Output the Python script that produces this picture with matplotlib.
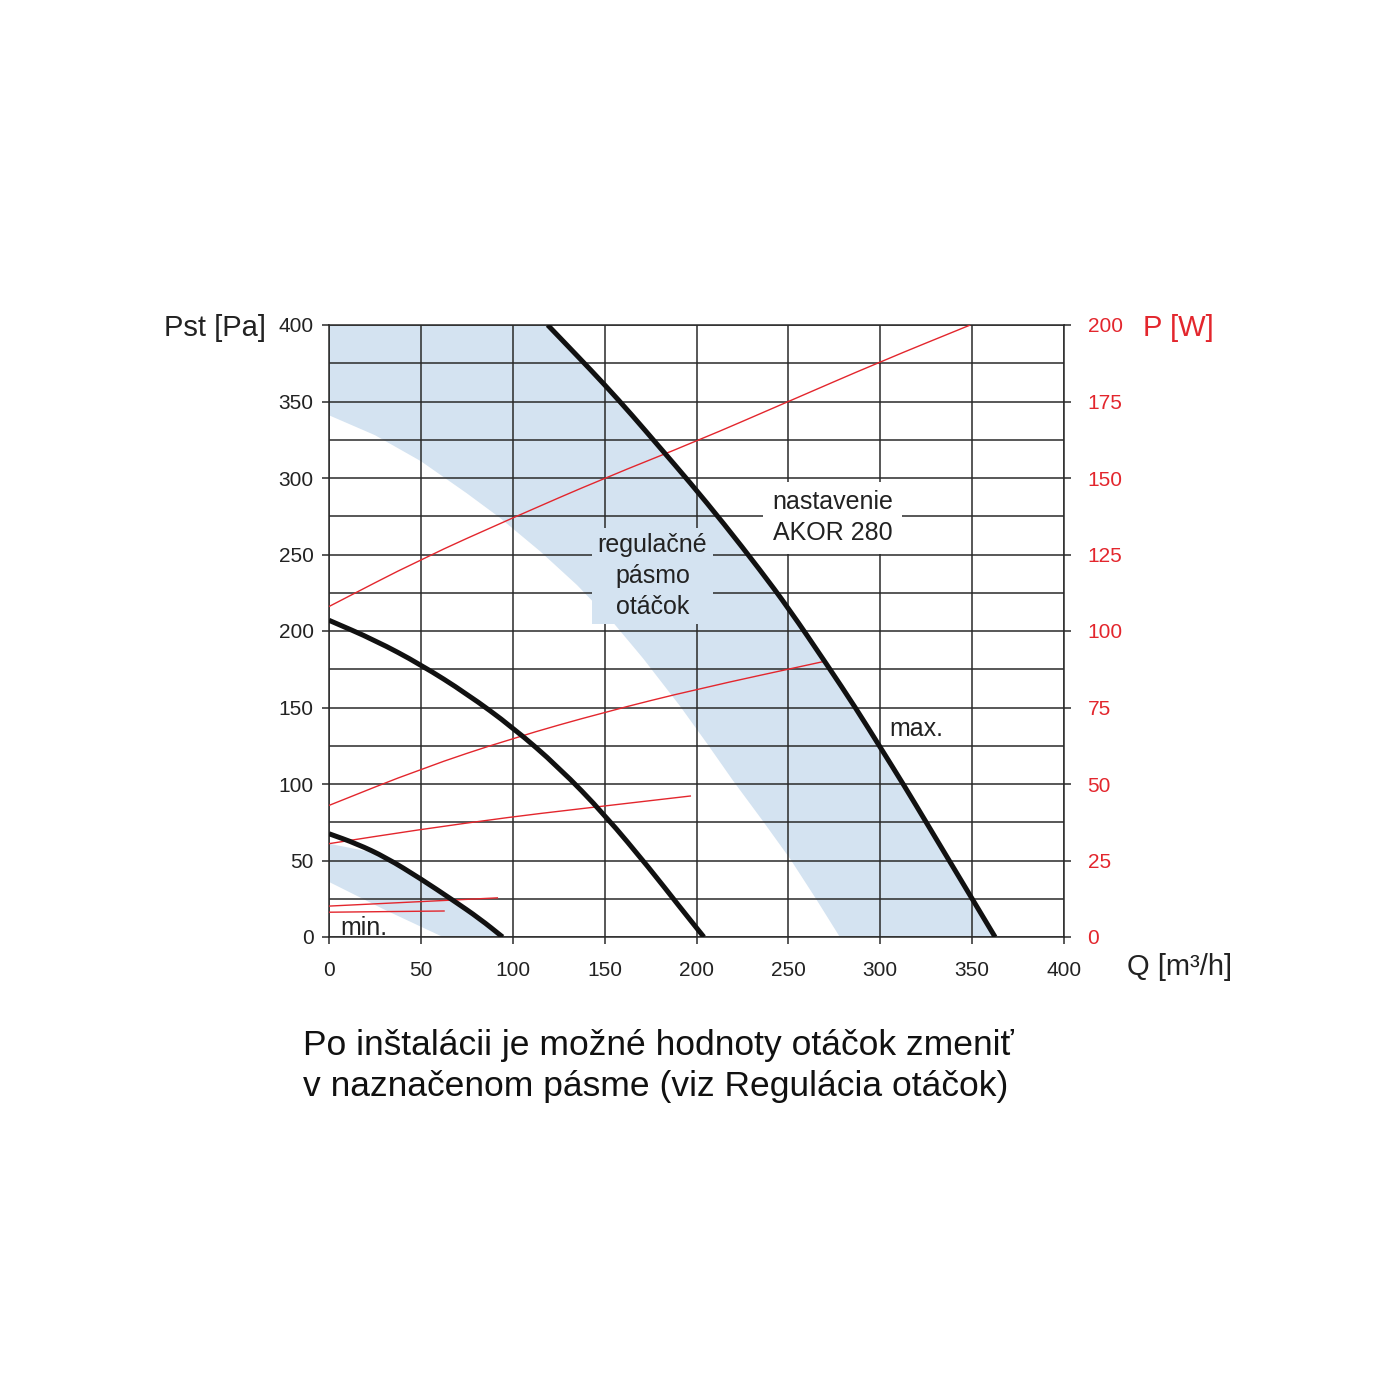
import matplotlib
matplotlib.use("Agg")
import matplotlib.pyplot as plt
from matplotlib.path import Path
from matplotlib.patches import PathPatch
import numpy as np

plt.rcParams['font.family'] = ['Liberation Sans', 'DejaVu Sans']

# fan curves, Q [m3/h] vs Pst [Pa]
max_q = [119, 135, 150, 165, 180, 196.5, 215, 234.5, 250, 271, 287, 300, 313, 326, 338, 350.5, 362.5]
max_p = [400, 380, 361, 341, 320, 297, 270, 240, 215, 178, 149, 124, 99, 73, 49, 24, 0]
mid_q = [0, 25, 50, 75, 100, 125, 150, 175, 190, 204]
mid_p = [207, 194, 178, 159, 137, 111, 80, 44, 21, 0]
min_q = [0, 15, 31, 50, 67.5, 82, 94.5]
min_p = [67.5, 61, 52, 38, 24, 12, 0]

# lower edge of the regulation band
band_q = [0, 25, 50, 75, 93, 115, 135, 155, 171, 191, 206, 220, 236, 251, 265, 278]
band_p = [341, 328, 311, 290, 274, 252, 230, 205, 182, 151, 126, 102, 76, 51, 25, 0]
minband_top_q = [0, 25, 50, 67.5, 82, 94.5]
minband_top_p = [61, 55, 38, 24, 12, 0]
minband_low_q = [0, 30, 62]
minband_low_p = [36, 18, 0]

# power lines, Q vs P [W]
pw1_q = [0, 50, 100, 150, 200, 250, 300, 349]
pw1_w = [108, 123.5, 137, 150, 162, 175, 188, 200]
pw2_q = [0, 50, 100, 150, 200, 269]
pw2_w = [43, 55, 65, 73.5, 81, 90]
pw3_q = [0, 48, 100, 131, 197]
pw3_w = [30.5, 35, 39.3, 41.5, 46.1]
pw4_q = [0, 92]
pw4_w = [10.1, 12.8]
pw5_q = [0, 63]
pw5_w = [8.1, 8.5]

q_ticks = list(range(0, 401, 50))
pst_ticks = list(range(0, 401, 50))
w_ticks = list(range(0, 201, 25))

blue = '#d4e3f1'
red = '#e3262d'
gridc = '#2a2a2a'


def smooth_path(xs, ys):
    # quadratic bezier through the midpoints, so the read points act as control points
    pts = np.column_stack([xs, ys]).astype(float)
    if len(pts) < 3:
        return Path(pts)
    verts = [pts[0], (pts[0] + pts[1]) / 2]
    codes = [Path.MOVETO, Path.LINETO]
    for i in range(1, len(pts) - 1):
        verts += [pts[i], (pts[i] + pts[i + 1]) / 2]
        codes += [Path.CURVE3, Path.CURVE3]
    verts.append(pts[-1])
    codes.append(Path.LINETO)
    return Path(verts, codes)


fig = plt.figure(figsize=(14, 14), dpi=100)
ax = fig.add_axes([329/1400, 1-937/1400, 735/1400, 612/1400])
ax2 = ax.twinx()

ax.set_xlim(0, 400)
ax.set_ylim(0, 400)
ax2.set_ylim(0, 200)

# regulation band
poly_q = [0] + max_q + band_q[::-1]
poly_p = [400] + max_p + band_p[::-1]
ax.fill(poly_q, poly_p, color=blue, lw=0, zorder=0.2)
poly_q = minband_top_q + minband_low_q[::-1]
poly_p = minband_top_p + minband_low_p[::-1]
ax.fill(poly_q, poly_p, color=blue, lw=0, zorder=0.2)

# grid
ax.set_axisbelow(True)
ax.set_xticks(q_ticks)
ax.set_yticks(pst_ticks)
ax.set_yticks(np.arange(25, 400, 50), minor=True)
ax.grid(True, which='major', color=gridc, lw=1.1)
ax.grid(True, which='minor', axis='y', color=gridc, lw=1.1)
ax.tick_params(which='minor', length=0)
ax.tick_params(which='major', direction='out', length=5, width=1.1, color=gridc,
               labelsize=15, labelcolor='#222222', pad=6)
ax.tick_params(axis='x', pad=12)
for s in ax.spines.values():
    s.set_color(gridc)
    s.set_linewidth(1.1)

ax2.set_yticks(w_ticks)
ax2.tick_params(direction='out', length=5, width=1.1, color=gridc, labelsize=15, labelcolor=red, pad=12)
for s in ax2.spines.values():
    s.set_visible(False)

# power lines (drawn in W scale)
for q, w in [(pw1_q, pw1_w), (pw2_q, pw2_w), (pw3_q, pw3_w), (pw4_q, pw4_w), (pw5_q, pw5_w)]:
    ax.add_patch(PathPatch(smooth_path(q, w), fc='none', ec=red, lw=1.0,
                           transform=ax2.transData, zorder=3))

# fan curves
for q, p in [(max_q, max_p), (mid_q, mid_p), (min_q, min_p)]:
    ax.add_patch(PathPatch(smooth_path(q, p), fc='none', ec='#111111', lw=3.6,
                           capstyle='butt', zorder=4))

ax.text(6, 6, 'min.', fontsize=18, ha='left', va='center', color='#222222', zorder=5)
ax.text(305, 136, 'max.', fontsize=18, ha='left', va='center', color='#222222', zorder=5)
ax.text(274, 274, 'nastavenie\nAKOR 280', fontsize=18, ha='center', va='center', color='#222222',
        linespacing=1.35, zorder=3, bbox=dict(boxstyle='square,pad=0.35', fc='white', ec='none'))
ax.text(176, 236, 'regulačné\npásmo\notáčok', fontsize=18, ha='center', va='center', color='#222222',
        linespacing=1.35, zorder=3, bbox=dict(boxstyle='square,pad=0.22', fc=blue, ec='none'))

fig.text(266/1400, 1-328/1400, 'Pst [Pa]', fontsize=21, ha='right', va='center', color='#222222')
fig.text(1143/1400, 1-328/1400, 'P [W]', fontsize=21, ha='left', va='center', color=red)
fig.text(1127/1400, 1-967/1400, 'Q [m³/h]', fontsize=21, ha='left', va='center', color='#222222')

fig.text(303/1400, 1-1066/1400,
         'Po inštalácii je možné hodnoty otáčok zmeniť\nv naznačenom pásme (viz Regulácia otáčok)',
         fontsize=25.5, ha='left', va='center', color='#111111', linespacing=1.3)

fig.savefig('out.png', dpi=100, facecolor='white')
